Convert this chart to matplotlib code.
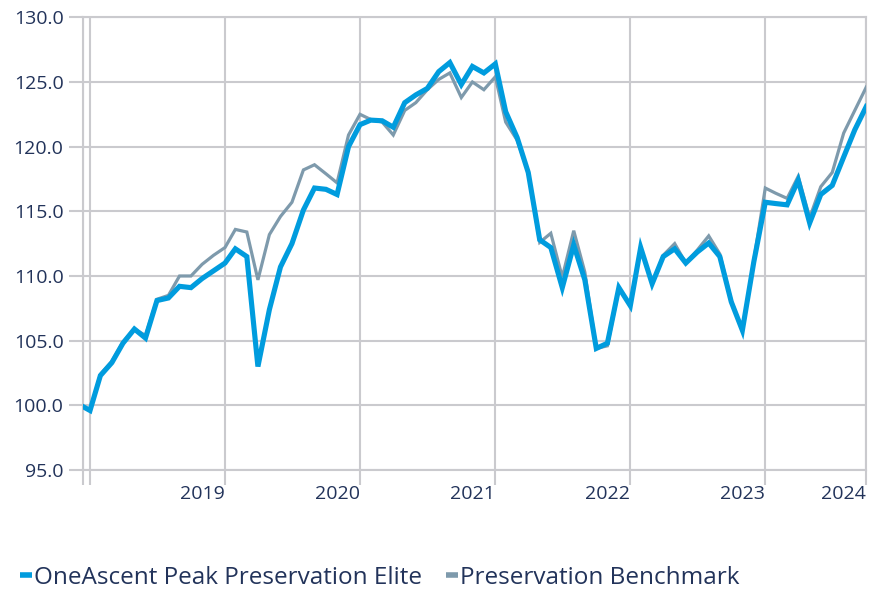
import matplotlib
matplotlib.use("Agg")
import matplotlib.pyplot as plt
import matplotlib.transforms as mtransforms
from matplotlib.lines import Line2D
import pandas as pd
import numpy as np

plt.rcParams['font.family'] = ['Open Sans', 'DejaVu Sans']

# ---- data ----
inception = "2018-01-12"
month_ends = pd.date_range("2018-01-31", periods=70, freq="ME")
dates = [pd.Timestamp(inception)] + list(month_ends)

fund = [99.9, 99.6, 102.3, 103.3, 104.8, 105.9, 105.2, 108.1, 108.3, 109.2,
        109.1, 109.8, 110.4, 111.0, 112.1, 111.5, 103.0, 107.4, 110.7, 112.5,
        115.1, 116.8, 116.7, 116.3, 120.0, 121.7, 122.05, 122.0, 121.5, 123.4,
        124.0, 124.5, 125.8, 126.5, 124.8, 126.2, 125.7, 126.4, 122.7, 120.7,
        118.0, 112.8, 112.2, 109.1, 112.4, 109.7, 104.4, 104.8, 109.1, 107.7,
        112.2, 109.4, 111.5, 112.1, 111.0, 111.85, 112.55, 111.5, 108.0, 105.8,
        111.1, 115.7, 115.6, 115.5, 117.4, 114.1, 116.3, 117.0, 119.2, 121.3,
        123.1]
bench = [99.9, 99.6, 102.4, 103.4, 104.9, 105.9, 105.4, 108.2, 108.5, 110.0,
         110.0, 110.9, 111.6, 112.2, 113.6, 113.4, 109.7, 113.2, 114.6, 115.7,
         118.2, 118.6, 117.9, 117.2, 120.9, 122.5, 122.1, 121.9, 120.9, 122.8,
         123.4, 124.4, 125.2, 125.7, 123.8, 125.0, 124.4, 125.4, 121.9, 120.5,
         118.0, 112.6, 113.3, 109.9, 113.5, 110.3, 104.4, 104.6, 109.0, 107.8,
         112.2, 109.4, 111.6, 112.5, 111.0, 112.0, 113.1, 111.7, 108.1, 105.8,
         111.2, 116.8, 116.4, 116.0, 117.7, 114.5, 116.9, 118.0, 121.05, 122.8,
         124.6]

year_labels = ["2019", "2020", "2021", "2022", "2023", "2024"]
y_ticks = [95, 100, 105, 110, 115, 120, 125, 130]

fund_name = "OneAscent Peak Preservation Elite"
bench_name = "Preservation Benchmark"

# ---- style ----
FUND_C = "#009CDE"
BENCH_C = "#7E9AAC"
GRID_C = "#CACACE"
TEXT_C = "#22335A"

fig = plt.figure(figsize=(8.74, 5.91), dpi=100)
ax = fig.add_axes([83 / 874, 1 - 470 / 591, (866.25 - 83) / 874, (470 - 17.3) / 591])

ax.plot(dates, bench, color=BENCH_C, lw=2.3, solid_joinstyle="miter", zorder=3)
ax.plot(dates, fund, color=FUND_C, lw=3.7, solid_joinstyle="miter", zorder=4)

ax.set_ylim(95, 130)
ax.set_xlim(dates[0], dates[-1])

ax.set_yticks(y_ticks)
ax.set_yticklabels([f"{v:.1f}" for v in y_ticks])

xt = [dates[0]] + [month_ends[i] for i in range(0, 70, 12)] + [dates[-1]]
ax.set_xticks(xt)
xl = [""] + [""] + year_labels
ax.set_xticklabels(xl)
for lab in ax.get_xticklabels():
    lab.set_horizontalalignment("right")
    lab.set_transform(lab.get_transform() +
                      mtransforms.ScaledTranslation(-5 / 100, 0, fig.dpi_scale_trans))

ax.grid(True, color=GRID_C, lw=1.5, zorder=0)
for s in ax.spines.values():
    s.set_color(GRID_C)
    s.set_linewidth(1.5)
ax.tick_params(axis="both", colors=GRID_C, width=1.5, labelcolor=TEXT_C,
               labelsize=14)
ax.tick_params(axis="y", length=10, pad=4)
ax.tick_params(axis="x", length=11, pad=0)

handles = [Line2D([], [], color=FUND_C, lw=4, solid_capstyle="butt"),
           Line2D([], [], color=BENCH_C, lw=4, solid_capstyle="butt")]
fig.legend(handles, [fund_name, bench_name], loc="center left",
           bbox_to_anchor=(10 / 874, 1 - 578 / 591), ncol=2, frameon=False,
           fontsize=17.5, handlelength=0.5, handletextpad=0.08,
           columnspacing=1.0, labelcolor=TEXT_C, borderaxespad=0)

fig.savefig("out.png", dpi=100)
